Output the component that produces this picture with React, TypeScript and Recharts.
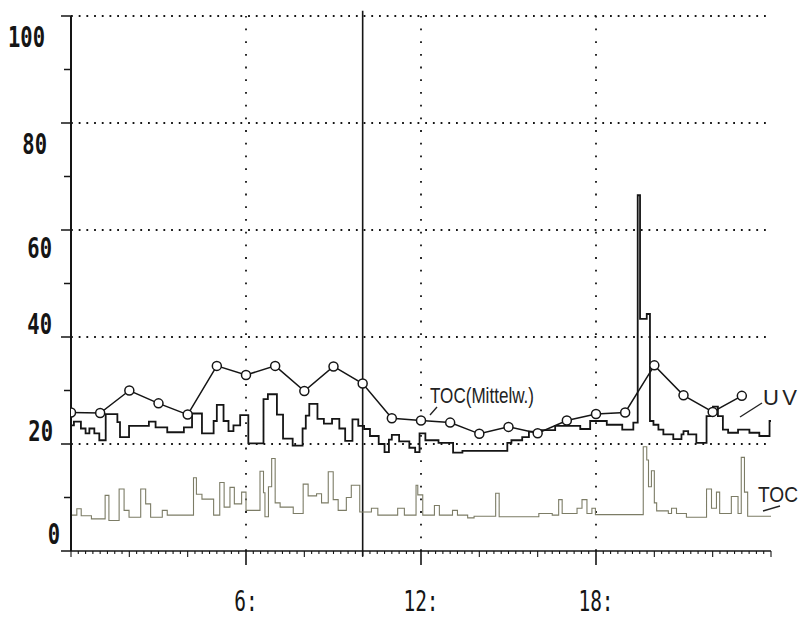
import { LineChart, Line, XAxis, YAxis, ReferenceLine } from "recharts";

// hourly mean of TOC (circles)
const meanHours = [0, 1, 2, 3, 4, 5, 6, 7, 8, 9, 10, 11, 12, 13, 14, 15, 16, 17, 18, 19, 20, 21, 22, 23];
const meanValues = [25.9, 25.8, 30.0, 27.6, 25.5, 34.6, 32.9, 34.6, 29.9, 34.5, 31.3, 24.8, 24.4, 24.0, 21.9, 23.2, 22.0, 24.4, 25.6, 25.9, 34.7, 29.1, 26.0, 29.0];

// UV trace (step changes, hour of day)
const uvTimes = [
	0, 0.1, 0.34, 0.5, 0.63, 0.8, 0.97, 1.19, 1.59, 1.68, 1.99, 2.67, 2.9, 3.3, 3.87, 4.15, 4.49, 4.89, 5.0, 5.23,
	5.4, 5.57, 5.8, 6.08, 6.6, 6.75, 7.06, 7.27, 7.6, 7.94, 8.05, 8.17, 8.45, 8.67, 8.95, 9.2, 9.4, 9.65, 9.85, 10.05,
	10.25, 10.55, 10.75, 10.9, 11.0, 11.25, 11.6, 11.8, 11.95, 12.15, 12.6, 13.1, 13.42, 14.96, 15.1, 15.47, 15.7, 16.1, 16.6, 17.46,
	17.8, 18.37, 18.9, 19.28, 19.43, 19.51, 19.74, 19.85, 19.97, 20.14, 20.31, 20.65, 20.93, 21.0, 21.16, 21.44, 21.79, 22.01, 22.18, 22.35,
	22.53, 22.87, 23.26, 23.6, 23.95, 24.0,
];
const uvValues = [
	23.5, 24.2, 22.9, 22.0, 22.9, 22.0, 20.7, 25.6, 24.1, 21.3, 23.4, 24.2, 23.1, 22.2, 23.1, 25.7, 22.0, 24.3, 27.3, 24.3,
	22.4, 23.5, 25.4, 20.1, 28.4, 29.3, 25.5, 21.0, 19.7, 22.9, 25.3, 27.5, 24.7, 23.8, 24.7, 22.9, 20.6, 24.6, 23.4, 22.8,
	21.5, 20.0, 18.5, 20.8, 21.7, 20.5, 19.3, 18.5, 22.0, 20.7, 20.2, 18.4, 18.7, 20.2, 20.7, 21.3, 22.3, 22.6, 23.4, 22.8,
	24.3, 23.6, 22.7, 24.0, 66.5, 43.4, 44.3, 24.3, 23.6, 22.7, 21.8, 20.9, 21.8, 22.4, 21.8, 20.2, 25.2, 27.0, 25.2, 22.7,
	22.1, 22.7, 22.1, 21.5, 24.3, 24.3,
];

// TOC trace (step changes, hour of day)
const tocTimes = [
	0, 0.2, 0.35, 0.7, 1.17, 1.3, 1.65, 1.82, 1.99, 2.39, 2.56, 2.73, 3.13, 3.3, 4.2, 4.3, 4.49, 4.89, 5.1, 5.25,
	5.45, 5.6, 5.85, 6.0, 6.48, 6.6, 6.65, 6.77, 6.88, 7.0, 7.17, 7.62, 7.96, 8.13, 8.42, 8.59, 8.82, 8.99, 9.16, 9.44,
	9.61, 9.9, 10.3, 10.52, 11.2, 11.43, 11.83, 11.89, 12.06, 12.46, 12.63, 13.08, 13.25, 13.6, 13.82, 14.56, 14.68, 16.04, 16.5, 16.72,
	16.84, 17.35, 17.52, 17.69, 17.86, 17.98, 19.62, 19.74, 19.8, 19.9, 20.0, 20.08, 20.48, 20.59, 20.76, 21.1, 21.79, 21.96, 22.13, 22.24,
	22.64, 22.87, 22.98, 23.09, 23.2, 24.0,
];
const tocValues = [
	6.7, 7.9, 6.6, 6.0, 10.4, 5.7, 11.6, 7.6, 6.3, 11.6, 8.8, 6.3, 7.6, 6.7, 13.7, 10.6, 9.7, 6.7, 12.8, 8.2,
	11.9, 8.8, 11.0, 7.6, 14.9, 10.9, 6.4, 12.0, 17.3, 9.0, 8.2, 7.0, 12.5, 10.3, 10.7, 9.0, 14.8, 9.6, 7.6, 10.0,
	12.3, 7.3, 8.0, 6.7, 8.0, 6.7, 12.3, 10.5, 6.7, 8.5, 6.7, 7.6, 6.7, 6.2, 6.5, 10.8, 6.4, 7.0, 6.7, 9.6,
	7.0, 8.0, 9.6, 7.0, 8.0, 6.8, 19.5, 17.0, 12.0, 15.0, 9.0, 7.5, 7.0, 8.0, 7.0, 6.3, 11.6, 8.0, 11.0, 7.0,
	10.2, 7.0, 17.5, 11.0, 6.5, 6.5,
];

const labeledHours = [6, 12, 18];
const gridValues = [20, 40, 60, 80, 100];
const valueTicks = [0, 10, 20, 30, 40, 50, 60, 70, 80, 90, 100];
const markerHour = 10;
const hourTicks = Array.from({ length: 97 }, (_, i) => i / 4);

const meanData = meanHours.map((t, i) => ({ t, mean: meanValues[i] }));
const uvData = uvTimes.map((t, i) => ({ t, uv: uvValues[i] }));
const tocData = tocTimes.map((t, i) => ({ t, toc: tocValues[i] }));

const INK = "#151515";
const MONO = "'DejaVu Sans Mono', monospace";
const SANS = "'Liberation Sans', Arial, sans-serif";

// label right edge + baseline offset, the printout places them unevenly
const labelPlacement: Record<number, [number, number]> = {
	100: [45, 31],
	80: [47, 31],
	60: [52, 28],
	40: [52, -3],
	20: [53, -3],
	0: [60, -7],
};

const HourTick = (props: any) => {
	const { x, y, payload } = props;
	const v = payload.value as number;
	const labeled = labeledHours.includes(v);
	const even = Math.abs(v / 2 - Math.round(v / 2)) < 1e-6;
	const len = labeled ? 14 : even ? 6 : 3;
	return (
		<g>
			<line x1={x} y1={y} x2={x} y2={y + len} stroke={INK} strokeWidth={labeled ? 1.6 : 1.1} />
			{labeled && (
				<text
					transform={`translate(${x},${y + 60}) scale(1,1.45)`}
					textAnchor="middle"
					fontFamily={MONO}
					fontSize={19.5}
					fill={INK}
				>
					{`${v}:`}
				</text>
			)}
		</g>
	);
};

const ValueTick = (props: any) => {
	const { x, y, payload } = props;
	const v = payload.value as number;
	const major = v % 20 === 0;
	const place = labelPlacement[v];
	return (
		<g>
			<line x1={x - (major ? 10 : 7)} y1={y} x2={x} y2={y} stroke={INK} strokeWidth={1.5} />
			{place && (
				<text
					transform={`translate(${place[0]},${y + place[1]}) scale(1,1.34)`}
					textAnchor="end"
					fontFamily={MONO}
					fontWeight="bold"
					fontSize={20.5}
					fill={INK}
				>
					{v}
				</text>
			)}
		</g>
	);
};

const Annotations = () => (
	<svg width={807} height={617} style={{ position: "absolute", left: 0, top: 0, pointerEvents: "none" }}>
		<g fontFamily={SANS} fontSize={22} fill="#222">
			<text x={430} y={403} textLength={104} lengthAdjust="spacingAndGlyphs">
				TOC(Mittelw.)
			</text>
			<text x={763} y={405} textLength={34} lengthAdjust="spacing">
				UV
			</text>
			<text x={758} y={502} textLength={40} lengthAdjust="spacingAndGlyphs">
				TOC
			</text>
		</g>
		<g stroke="#222" strokeWidth={1.4}>
			<line x1={437} y1={407} x2={430} y2={415} />
			<line x1={762} y1={403} x2={740} y2={417} />
			<line x1={763} y1={511} x2={780} y2={506} />
		</g>
	</svg>
);

const App = () => {
	return (
		<div style={{ position: "absolute", left: 0, top: 0, width: 807, height: 617, background: "#fff" }}>
			<LineChart width={807} height={617} margin={{ top: 16, right: 36, bottom: 0, left: 0 }}>
				<XAxis
					type="number"
					dataKey="t"
					domain={[0, 24]}
					ticks={hourTicks}
					interval={0}
					tick={(p: any) => <HourTick {...p} />}
					tickLine={false}
					tickSize={0}
					tickMargin={0}
					axisLine={{ stroke: INK, strokeWidth: 1.6 }}
					height={66}
					allowDataOverflow
				/>
				<YAxis
					type="number"
					domain={[0, 100]}
					ticks={valueTicks}
					interval={0}
					tick={(p: any) => <ValueTick {...p} />}
					tickLine={false}
					tickSize={0}
					tickMargin={0}
					axisLine={{ stroke: INK, strokeWidth: 2 }}
					width={71}
				/>
				{gridValues.map((v) => (
					<ReferenceLine key={`g${v}`} y={v} stroke={INK} strokeWidth={1.8} strokeDasharray="1.8 5.9" />
				))}
				{labeledHours.map((h) => (
					<ReferenceLine key={`v${h}`} x={h} stroke={INK} strokeWidth={1.8} strokeDasharray="1.8 10.9" />
				))}
				<ReferenceLine
					segment={[
						{ x: markerHour, y: -1 },
						{ x: markerHour, y: 101 },
					]}
					ifOverflow="visible"
					stroke={INK}
					strokeWidth={1.6}
				/>
				<Line
					data={tocData}
					dataKey="toc"
					type="stepAfter"
					stroke="#7c7c66"
					strokeWidth={1.1}
					dot={false}
					isAnimationActive={false}
				/>
				<Line
					data={uvData}
					dataKey="uv"
					type="stepAfter"
					stroke={INK}
					strokeWidth={1.8}
					dot={false}
					isAnimationActive={false}
				/>
				<Line
					data={meanData}
					dataKey="mean"
					type="linear"
					stroke={INK}
					strokeWidth={1.5}
					dot={{ r: 4.5, fill: "#fff", stroke: INK, strokeWidth: 1.5 }}
					isAnimationActive={false}
				/>
			</LineChart>
			<Annotations />
		</div>
	);
};

export default App;
